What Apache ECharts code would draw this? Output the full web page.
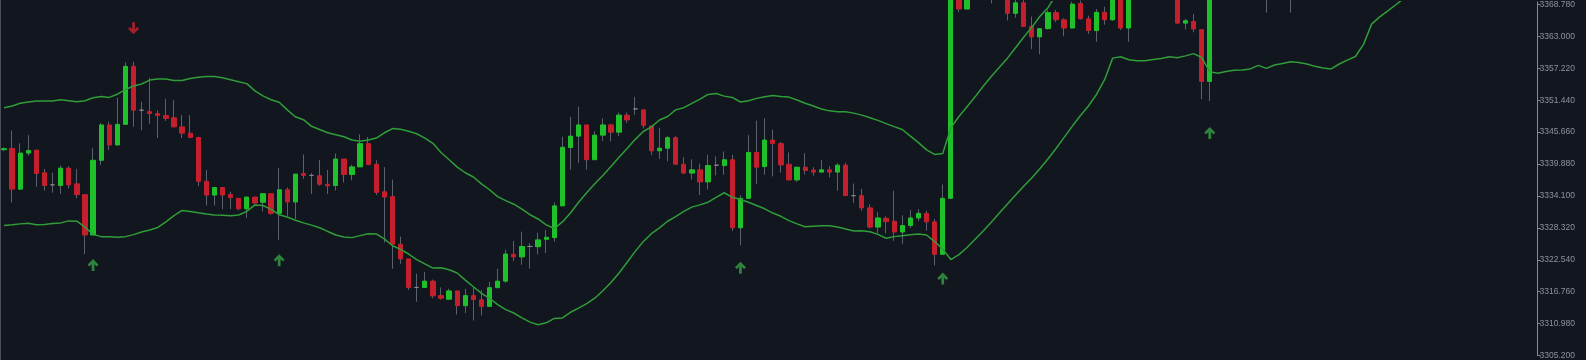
<!DOCTYPE html>
<html>
<head>
<meta charset="utf-8">
<script src="https://cdn.jsdelivr.net/npm/echarts@6/dist/echarts.min.js"></script>
<style>
html,body{margin:0;padding:0;background:#12161f;}
#c{width:1586px;height:360px;}
</style>
</head>
<body>
<div id="c"></div>
<script>
const opens = [
3342.48,3342.69,3335.33,3341.86,3342.39,3338.30,3336.11,3335.98,3339.13,3336.29,
3334.33,3327.03,3340.56,3346.96,3343.33,3347.07,3357.57,3349.63,3349.38,3349.03,
3348.67,3348.26,3346.61,3345.47,3344.70,3336.75,3334.26,3335.63,3334.38,3333.67,
3331.77,3333.90,3332.96,3334.51,3330.95,3335.22,3333.01,3338.17,3337.82,3337.76,
3336.22,3335.98,3340.79,3337.99,3339.36,3343.58,3339.84,3334.86,3333.97,3325.36,
3322.69,3317.53,3317.53,3318.67,3316.05,3315.39,3316.89,3314.22,3316.05,3315.29,
3314.10,3317.48,3318.67,3323.53,3323.05,3324.95,3324.90,3326.25,3326.55,3332.30,
3342.87,3344.93,3346.96,3340.66,3345.11,3346.96,3345.65,3348.74,3349.86,3349.69,
3346.79,3342.27,3342.75,3344.65,3339.84,3338.24,3338.83,3336.64,3339.67,3339.60,
3340.66,3328.33,3333.67,3341.98,3339.42,3344.22,3343.58,3339.84,3337.00,3339.31,
3338.78,3338.42,3338.83,3338.42,3339.67,3334.15,3334.15,3331.94,3328.46,3330.06,
3329.52,3327.57,3328.74,3330.11,3330.95,3329.40,3323.53,3333.67,3371.50,3367.96,
3371.00,3372.50,3371.80,3373.00,3372.20,3367.18,3369.08,3364.81,3362.91,3364.40,
3367.30,3366.00,3364.51,3368.96,3366.18,3364.05,3367.36,3366.00,3371.00,3364.51,
3370.50,3371.50,3372.40,3371.60,3372.80,3371.90,3365.40,3365.70,3364.22,3354.85,
3371.50,3372.80,3373.60,3372.90,3374.20,3373.50,3372.60,3371.40,3372.70,3373.90,
3374.60,3375.30,3376.10,3375.40,3376.60,3377.50,3378.80,3380.10,3382.00,3384.40,
3386.90,3386.10,3387.80,3389.20,3388.50,3389.90,3391.30,3390.60,3392.00,3393.40,
3392.70,3394.10,3395.00,3394.20,3395.60,3396.90,3396.10,3397.40,3398.50,3397.80
];
const closes = [
3342.66,3335.33,3341.86,3342.34,3338.17,3335.98,3336.11,3339.13,3336.11,3334.33,
3327.03,3340.56,3346.96,3343.33,3347.07,3357.57,3349.63,3349.63,3349.03,3348.67,
3348.14,3346.61,3345.47,3344.70,3336.75,3334.26,3335.63,3334.26,3333.79,3331.77,
3333.90,3332.83,3334.51,3330.95,3335.22,3333.01,3338.06,3337.82,3337.82,3336.22,
3335.93,3340.79,3337.99,3339.36,3343.58,3339.77,3334.74,3333.90,3325.36,3322.69,
3317.53,3317.53,3318.67,3316.00,3315.57,3316.89,3314.22,3316.05,3315.34,3314.10,
3317.48,3318.67,3323.58,3323.05,3324.95,3324.95,3326.14,3326.61,3332.30,3342.92,
3344.93,3346.96,3340.66,3345.11,3346.96,3345.65,3348.74,3347.85,3349.86,3346.89,
3342.27,3342.75,3344.65,3339.84,3338.24,3338.83,3336.64,3339.60,3339.67,3340.66,
3328.33,3333.67,3341.98,3339.31,3344.22,3343.58,3339.72,3337.00,3339.31,3338.71,
3338.42,3338.83,3338.42,3339.67,3334.15,3334.15,3331.94,3328.46,3330.11,3329.45,
3327.57,3328.74,3330.11,3330.95,3329.40,3323.53,3333.67,3372.50,3367.96,3371.00,
3372.50,3371.80,3373.00,3372.20,3367.18,3369.08,3364.81,3362.91,3364.40,3367.30,
3366.00,3364.51,3368.85,3366.18,3364.05,3367.36,3366.00,3370.20,3364.51,3370.50,
3371.50,3372.40,3371.60,3372.80,3371.90,3365.40,3365.83,3364.33,3354.85,3371.50,
3372.80,3373.60,3372.90,3374.20,3373.50,3372.60,3371.40,3372.70,3373.90,3374.60,
3375.30,3376.10,3375.40,3376.60,3377.50,3378.80,3380.10,3382.00,3384.40,3386.90,
3386.10,3387.80,3389.20,3388.50,3389.90,3391.30,3390.60,3392.00,3393.40,3392.70,
3394.10,3395.00,3394.20,3395.60,3396.90,3396.10,3397.40,3398.50,3397.80,3399.00
];
const highs = [
3342.92,3345.95,3343.64,3345.11,3342.48,3339.01,3338.30,3339.60,3339.49,3339.01,
3334.38,3342.75,3347.32,3347.55,3351.87,3358.28,3358.41,3351.16,3355.50,3349.63,
3351.70,3351.47,3348.74,3348.74,3344.70,3338.78,3335.63,3335.63,3334.86,3333.67,
3333.90,3333.90,3334.51,3334.51,3339.19,3335.63,3338.06,3341.62,3338.24,3340.61,
3338.83,3341.80,3340.79,3339.77,3345.24,3344.76,3340.56,3339.31,3337.05,3326.73,
3322.69,3320.02,3320.32,3318.95,3317.53,3317.30,3316.89,3317.30,3317.65,3317.07,
3318.54,3320.91,3324.36,3325.96,3327.62,3325.54,3327.44,3327.92,3332.96,3344.83,
3348.44,3350.27,3346.96,3345.82,3348.14,3347.19,3349.21,3349.21,3352.05,3349.69,
3346.79,3346.43,3344.93,3344.93,3341.14,3340.73,3339.95,3341.55,3341.27,3342.16,
3341.55,3334.26,3345.11,3347.73,3348.14,3346.13,3343.87,3341.98,3339.31,3341.86,
3339.31,3340.61,3339.49,3340.02,3340.13,3336.34,3335.40,3332.60,3331.18,3330.41,
3335.04,3330.59,3331.54,3331.71,3331.41,3329.93,3336.16,3373.50,3373.00,3372.00,
3373.50,3374.00,3374.50,3374.20,3373.00,3370.50,3369.60,3366.59,3364.40,3367.78,
3367.78,3366.29,3369.30,3369.50,3366.77,3367.96,3368.37,3371.00,3371.80,3371.50,
3372.50,3373.40,3373.20,3373.90,3373.60,3372.50,3366.18,3367.07,3364.22,3372.00,
3374.00,3374.80,3375.00,3375.30,3375.50,3374.40,3373.20,3373.80,3375.00,3376.00,
3376.50,3377.20,3377.00,3377.80,3378.60,3379.90,3381.20,3383.00,3385.50,3388.00,
3388.40,3389.00,3390.40,3390.60,3391.00,3392.40,3392.50,3393.10,3394.50,3394.60,
3395.20,3396.30,3396.00,3396.80,3398.00,3398.10,3398.60,3399.70,3399.90,3400.20
];
const lows = [
3342.21,3332.91,3335.18,3341.38,3335.75,3335.04,3334.68,3334.44,3335.45,3333.67,
3323.58,3326.99,3339.72,3342.39,3343.28,3347.02,3346.61,3346.00,3347.19,3344.58,
3347.67,3346.54,3344.58,3344.61,3335.86,3332.37,3332.37,3331.71,3331.71,3331.48,
3330.11,3332.60,3331.30,3330.70,3326.14,3330.47,3329.93,3337.18,3334.44,3335.93,
3334.44,3335.09,3336.52,3336.93,3339.36,3339.72,3334.26,3325.66,3320.91,3321.80,
3317.07,3314.93,3317.48,3315.57,3315.34,3315.39,3312.62,3312.90,3311.55,3312.44,
3314.10,3317.48,3318.37,3322.28,3321.62,3320.91,3323.53,3323.76,3325.79,3332.30,
3338.88,3340.08,3338.88,3340.66,3344.04,3343.99,3344.93,3347.32,3348.80,3346.30,
3341.50,3340.79,3340.38,3339.81,3338.12,3337.05,3334.26,3335.27,3337.82,3337.94,
3327.74,3325.18,3333.67,3336.22,3337.94,3337.64,3338.30,3336.87,3336.64,3337.99,
3337.76,3338.30,3337.46,3335.04,3334.11,3332.83,3331.41,3328.21,3327.32,3327.32,
3325.96,3325.43,3328.28,3329.52,3327.80,3321.52,3323.47,3333.60,3367.36,3367.90,
3369.80,3370.20,3368.96,3370.50,3365.88,3366.41,3364.72,3360.67,3359.78,3364.22,
3365.58,3363.03,3364.40,3366.06,3363.44,3362.02,3365.11,3365.83,3364.15,3362.02,
3369.80,3370.60,3370.30,3370.90,3370.40,3365.22,3364.22,3363.74,3351.64,3351.29,
3370.20,3371.40,3371.80,3372.00,3372.40,3371.20,3367.30,3370.30,3371.60,3367.30,
3373.20,3374.10,3374.50,3374.60,3375.80,3376.90,3378.00,3379.50,3381.20,3383.80,
3385.00,3385.30,3386.90,3387.60,3387.90,3389.00,3389.80,3389.90,3391.30,3391.80,
3392.00,3393.20,3393.40,3393.50,3394.80,3395.20,3395.30,3396.60,3397.00,3397.10
];
const upperBand = [
3350.09,3350.40,3350.88,3351.11,3351.29,3351.29,3351.29,3351.52,3351.34,3351.16,
3351.34,3351.87,3352.12,3351.95,3352.53,3353.37,3354.01,3354.37,3355.08,3355.26,
3355.26,3355.02,3355.02,3355.38,3355.61,3355.74,3355.74,3355.50,3355.15,3354.79,
3354.44,3353.12,3352.23,3351.52,3351.06,3349.69,3348.44,3347.91,3346.71,3346.13,
3345.54,3345.18,3344.83,3344.22,3343.99,3344.22,3344.58,3345.54,3346.30,3346.18,
3345.82,3345.36,3344.58,3343.64,3341.98,3340.66,3339.31,3338.30,3337.53,3336.29,
3335.22,3333.97,3333.26,3332.60,3331.71,3330.70,3329.93,3328.87,3328.21,3329.40,
3331.00,3332.96,3334.68,3336.29,3337.82,3339.42,3341.09,3342.69,3344.35,3345.77,
3346.62,3347.85,3348.49,3349.69,3350.09,3350.88,3351.64,3352.48,3352.66,3352.18,
3351.95,3351.11,3351.34,3351.77,3352.05,3352.30,3352.12,3352.00,3351.47,3350.88,
3350.40,3349.86,3349.51,3349.33,3349.33,3349.10,3348.74,3348.26,3347.78,3347.19,
3346.66,3346.13,3344.93,3343.76,3342.44,3341.62,3341.80,3346.43,3348.49,3350.27,
3352.05,3353.96,3355.74,3357.39,3359.06,3360.95,3362.85,3364.63,3366.59,3368.19,
3370.50,3372.00,3373.20,3374.10,3374.80,3375.30,3375.60,3376.20,3376.50,3376.90,
3377.20,3377.40,3377.50,3377.70,3377.80,3377.60,3377.40,3377.30,3377.90,3378.40,
3378.60,3378.90,3379.10,3379.40,3379.60,3379.70,3379.80,3380.00,3380.30,3380.60,
3381.00,3381.50,3381.90,3382.40,3383.00,3383.80,3384.70,3385.80,3387.20,3388.90,
3390.30,3391.60,3392.80,3393.80,3394.70,3395.60,3396.30,3397.00,3397.70,3398.30,
3398.90,3399.60,3400.10,3400.70,3401.40,3401.90,3402.50,3403.10,3403.60,3404.20
];
const lowerBand = [
3328.74,3328.87,3329.04,3329.17,3328.87,3328.92,3329.10,3329.22,3329.58,3329.52,
3328.46,3327.14,3326.73,3326.73,3326.61,3326.73,3327.09,3327.57,3327.92,3328.39,
3329.40,3330.52,3331.48,3331.30,3331.05,3330.82,3330.65,3330.61,3330.52,3330.65,
3331.30,3332.48,3332.37,3331.66,3330.70,3330.29,3329.70,3329.22,3328.81,3328.33,
3327.67,3327.03,3326.68,3326.55,3326.91,3327.26,3327.21,3326.32,3325.08,3324.42,
3323.58,3322.58,3321.80,3321.04,3321.09,3320.73,3320.15,3318.85,3317.65,3316.46,
3315.57,3314.40,3313.51,3312.90,3312.01,3311.25,3310.77,3311.12,3311.91,3312.01,
3313.03,3313.79,3314.58,3315.57,3316.94,3318.42,3320.15,3322.10,3324.06,3325.84,
3327.26,3328.33,3329.52,3330.34,3331.30,3332.07,3332.48,3332.96,3333.85,3334.68,
3333.85,3333.44,3332.96,3332.37,3331.77,3331.00,3330.41,3329.63,3329.04,3328.51,
3328.63,3328.69,3328.69,3328.46,3328.10,3327.74,3327.80,3327.62,3327.14,3326.43,
3326.73,3326.91,3327.09,3327.21,3327.03,3325.84,3324.47,3322.58,3323.47,3324.77,
3326.25,3327.74,3329.35,3331.00,3332.66,3334.26,3335.86,3337.35,3339.01,3340.79,
3342.69,3344.70,3346.71,3348.62,3350.40,3352.48,3355.15,3359.06,3359.30,3358.76,
3358.58,3358.58,3358.81,3358.99,3359.30,3359.12,3359.47,3359.88,3359.17,3356.60,
3356.32,3356.63,3356.86,3356.93,3357.11,3357.75,3357.21,3357.82,3358.10,3358.41,
3358.28,3358.00,3357.57,3357.28,3357.11,3358.00,3358.71,3359.35,3361.55,3365.22,
3366.54,3367.61,3368.73,3369.90,3370.90,3371.80,3372.60,3373.30,3374.00,3374.80,
3375.50,3376.30,3377.00,3377.60,3378.30,3379.00,3379.60,3380.30,3381.00,3381.60
];
const upArrowIndex = [11, 34, 91, 116, 149];
const upArrowPrice = [3321.57, 3322.46, 3321.09, 3319.13, 3345.50];
const downArrowIndex = [16];
const downArrowPrice = [3364.46];
const yTicks = [3305.2, 3310.98, 3316.76, 3322.54, 3328.32, 3334.1, 3339.88, 3345.66, 3351.44, 3357.22, 3363.0, 3368.78];

const categories = opens.map((_, i) => String(i));
const wickData = opens.map((o, i) => [o, closes[i], lows[i], highs[i]]);
const bodyData = opens.map((o, i) => [o, closes[i], Math.min(o, closes[i]), Math.max(o, closes[i])]);
const upArrows = upArrowIndex.map((k, j) => [k, upArrowPrice[j]]);
const downArrows = downArrowIndex.map((k, j) => [k, downArrowPrice[j]]);

const GREEN = '#1fc12a';
const RED = '#c51f2d';
const WICK = '#5a606c';
const BAND = '#2f9d38';
const AXIS = '#878b93';
const arrowPath = 'path://M6 0 L12 6 L10 8 L7.5 5.5 L7.5 13 L4.5 13 L4.5 5.5 L2 8 L0 6 Z';

const chart = echarts.init(document.getElementById('c'), null, {renderer: 'canvas'});
chart.setOption({
  backgroundColor: '#12161f',
  animation: false,
  grid: {left: -3.15, right: 48.5, top: 0, bottom: 0, containLabel: false},
  xAxis: {type: 'category', data: categories, boundaryGap: true, show: false},
  yAxis: {
    type: 'value', position: 'right', min: 3305.2, max: 3369.26,
    splitLine: {show: false},
    axisLine: {show: true, lineStyle: {color: AXIS, width: 1}},
    axisTick: {show: true, length: 3, inside: false, lineStyle: {color: AXIS}, customValues: yTicks},
    axisLabel: {
      customValues: yTicks, formatter: v => Number(v).toFixed(3),
      color: '#8e929a', fontSize: 8.5, fontFamily: '"Liberation Sans", Arial, sans-serif', margin: 2,
      showMinLabel: true, showMaxLabel: true, hideOverlap: false
    }
  },
  graphic: [{type: 'line', shape: {x1: 0.5, y1: 0, x2: 0.5, y2: 360}, style: {stroke: '#4a4f59', lineWidth: 1}, silent: true}],
  series: [
    {
      type: 'candlestick', name: 'wick', data: wickData, barWidth: 1, z: 2,
      itemStyle: {color: WICK, color0: WICK, borderColor: WICK, borderColor0: WICK, borderWidth: 1},
      silent: true
    },
    {
      type: 'candlestick', name: 'body', data: bodyData, barWidth: 4.8, z: 3,
      itemStyle: {color: GREEN, color0: RED, borderColor: GREEN, borderColor0: RED, borderWidth: 1, borderColorDoji: '#8a8590'},
      silent: true
    },
    {
      type: 'line', name: 'upper', data: upperBand, symbol: 'none', z: 4,
      lineStyle: {color: BAND, width: 1.5}, silent: true
    },
    {
      type: 'line', name: 'lower', data: lowerBand, symbol: 'none', z: 4,
      lineStyle: {color: BAND, width: 1.5}, silent: true
    },
    {
      type: 'scatter', name: 'buy', data: upArrows, symbol: arrowPath, symbolSize: [11, 12], z: 5,
      itemStyle: {color: '#36a043'}, silent: true
    },
    {
      type: 'scatter', name: 'sell', data: downArrows, symbol: arrowPath, symbolSize: [11, 12], symbolRotate: 180, z: 5,
      itemStyle: {color: '#cc2230'}, silent: true
    }
  ]
});
</script>
</body>
</html>
